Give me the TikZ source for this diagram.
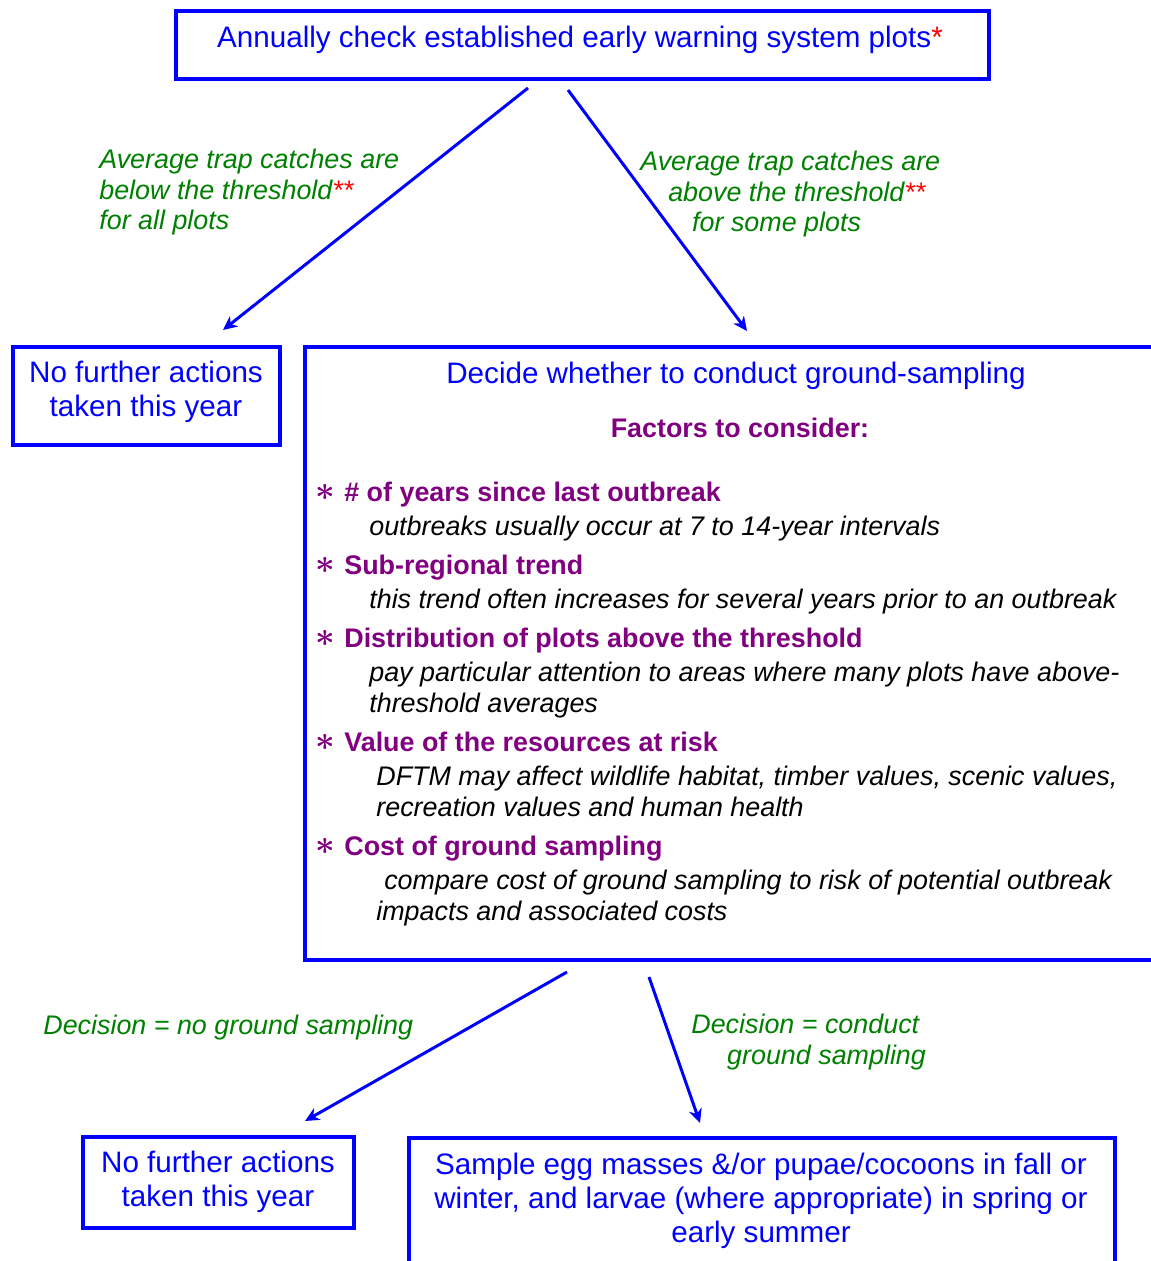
\documentclass[tikz,border=0pt]{standalone}
\usepackage{fontspec}
\setmainfont{Liberation Sans}
\usetikzlibrary{arrows.meta}
\definecolor{flowblue}{RGB}{0,0,255}
\definecolor{condgreen}{RGB}{0,128,0}
\definecolor{factpurple}{RGB}{128,0,128}

\begin{document}
\begin{tikzpicture}[x=0.02cm,y=-0.02cm,
    frame/.style={draw=flowblue,line width=2pt},
    flow/.style={draw=flowblue,line width=1.7pt,-{Stealth[length=8pt,width=7.5pt,inset=2.5pt]}},
    boxtext/.style={text=flowblue,inner sep=0pt,align=center,anchor=north,font=\fontsize{16.85}{19.3}\selectfont},
    cond/.style={text=condgreen,inner sep=0pt,align=left,anchor=north west,font=\fontsize{15.3}{17.4}\selectfont\itshape},
    fhead/.style={text=factpurple,inner sep=0pt,anchor=north west,font=\fontsize{15.3}{17.4}\selectfont\bfseries},
    fstar/.style={text=factpurple,inner sep=0pt,font=\fontsize{15.3}{17.4}\selectfont},
    fnote/.style={inner sep=0pt,align=left,anchor=north west,font=\fontsize{15.3}{17.6}\selectfont\itshape}]
  \useasboundingbox (0,0) rectangle (1151,1261);
  % boxes
  \draw[frame] (176,11) rectangle (989,79);
  \draw[frame] (13,347) rectangle (280,445);
  \draw[frame] (1151,347) -- (305,347) -- (305,960) -- (1151,960);
  \draw[frame] (83,1137) rectangle (354,1228);
  \draw[frame] (409,1265) -- (409,1138) -- (1115,1138) -- (1115,1265);
  % box texts
  \node[boxtext] (annual) at (580,26) {Annually check established early warning system plots\textcolor{red}{*}};
  \node[boxtext] (nofurtherA) at (146,361) {No further actions\\taken this year};
  \node[boxtext] (decide) at (736,362) {Decide whether to conduct ground-sampling};
  \node[boxtext] (nofurtherB) at (218,1151) {No further actions\\taken this year};
  \node[boxtext] (sample) at (761,1153) {Sample egg masses \&/or pupae/cocoons in fall or\\winter, and larvae (where appropriate) in spring or\\early summer};
  % factors
  \node[fhead,anchor=north] (factors) at (740,418) {Factors to consider:};
  \node[fstar] (starA) at (325,492) {\scalebox{1.35}{\boldmath$\ast$}};
  \node[fhead] (yearsH) at (344,482) {\# of years since last outbreak};
  \node[fnote] (yearsN) at (369,516) {outbreaks usually occur at 7 to 14-year intervals};
  \node[fstar] (starB) at (325,565) {\scalebox{1.35}{\boldmath$\ast$}};
  \node[fhead] (trendH) at (344,555) {Sub-regional trend};
  \node[fnote] (trendN) at (369,589) {this trend often increases for several years prior to an outbreak};
  \node[fstar] (starC) at (325,638) {\scalebox{1.35}{\boldmath$\ast$}};
  \node[fhead] (distH) at (344,628) {Distribution of plots above the threshold};
  \node[fnote] (distN) at (369,662) {pay particular attention to areas where many plots have above-\\threshold averages};
  \node[fstar] (starD) at (325,742) {\scalebox{1.35}{\boldmath$\ast$}};
  \node[fhead] (valueH) at (344,732) {Value of the resources at risk};
  \node[fnote] (valueN) at (376,766) {DFTM may affect wildlife habitat, timber values, scenic values,\\recreation values and human health};
  \node[fstar] (starE) at (325,846) {\scalebox{1.35}{\boldmath$\ast$}};
  \node[fhead] (costH) at (344,836) {Cost of ground sampling};
  \node[fnote] (costN) at (376,870) {\hspace*{4.5pt}compare cost of ground sampling to risk of potential outbreak\\impacts and associated costs};
  % conditions
  \node[cond] (below) at (99,149) {Average trap catches are\\below the threshold\textcolor{red}{**}\\for all plots};
  \node[cond] (above) at (640,151) {Average trap catches are\\\hspace*{15.9pt}above the threshold\textcolor{red}{**}\\\hspace*{29.5pt}for some plots};
  \node[cond] (nosample) at (43,1015) {Decision = no ground sampling};
  \node[cond] (dosample) at (691,1014) {Decision = conduct\\\hspace*{20.4pt}ground sampling};
  % arrows
  \coordinate (belowS) at (528,88);
  \coordinate (belowE) at (223,330);
  \coordinate (aboveS) at (568,90);
  \coordinate (aboveE) at (747,331);
  \coordinate (noS) at (567,972);
  \coordinate (noE) at (305,1121);
  \coordinate (doS) at (649,977);
  \coordinate (doE) at (700,1123);
  \draw[flow] (belowS) -- (belowE);
  \draw[flow] (aboveS) -- (aboveE);
  \draw[flow] (noS) -- (noE);
  \draw[flow] (doS) -- (doE);
\end{tikzpicture}
\end{document}
